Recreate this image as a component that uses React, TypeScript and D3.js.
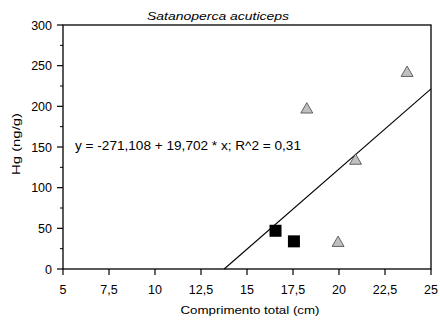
import React from 'react';
import * as d3 from 'd3';

// comprimento (cm) e Hg (ng/g)
const triX = [18.25, 23.7, 20.9, 19.95];
const triY = [196, 241, 133, 32];
const sqX = [16.55, 17.55];
const sqY = [47, 34];

const intercept = -271.108;
const slope = 19.702;

const xTicks = [5, 7.5, 10, 12.5, 15, 17.5, 20, 22.5, 25];
const yTicks = [0, 50, 100, 150, 200, 250, 300];
const yMinor = [25, 75, 125, 175, 225, 275];

const title = 'Satanoperca acuticeps';
const xLabel = 'Comprimento total (cm)';
const yLabel = 'Hg (ng/g)';
const eqText = 'y = -271,108 + 19,702 * x; R^2 = 0,31';

const width = 440;
const height = 321;
const margin = { top: 25, right: 9, bottom: 52, left: 63 };
const font = 'Arial, "Liberation Sans", sans-serif';

export default function App() {
  const innerW = width - margin.left - margin.right;
  const innerH = height - margin.top - margin.bottom;

  const xScale = d3.scaleLinear().domain([5, 25]).range([0, innerW]);
  const yScale = d3.scaleLinear().domain([0, 300]).range([innerH, 0]);

  const fmt = (v: number) => String(v).replace('.', ',');

  // reta de regressao, desde y = 0 ate x = 25
  const x0 = -intercept / slope;
  const fitLine = d3.line<number>()
    .x(d => xScale(d))
    .y(d => yScale(intercept + slope * d))([x0, 25]);

  const tri = d3.symbol().type(d3.symbolTriangle).size(62)();
  const sq = 12;

  return (
    <svg width={width} height={height} style={{ position: 'absolute', left: 0, top: 0 }}>
      <rect width={width} height={height} fill="#fff" />
      <text x={218} y={20} textAnchor="middle" fontFamily={font} fontSize={11.5} fontStyle="italic"
        textLength={142} lengthAdjust="spacingAndGlyphs">{title}</text>
      <g transform={`translate(${margin.left},${margin.top})`}>
        <rect x={0} y={0} width={innerW} height={innerH} fill="none" stroke="#000" strokeWidth={1.3} />
        {yTicks.map(t => (
          <g key={t} transform={`translate(0,${yScale(t)})`}>
            <line x1={-6} x2={0} stroke="#000" strokeWidth={1.2} />
            <text x={-11} dy=".36em" textAnchor="end" fontFamily={font} fontSize={12.5}>{t}</text>
          </g>
        ))}
        {yMinor.map(t => (
          <line key={t} x1={-3} x2={0} y1={yScale(t)} y2={yScale(t)} stroke="#000" strokeWidth={1} />
        ))}
        {xTicks.map(t => (
          <g key={t} transform={`translate(${xScale(t)},${innerH})`}>
            <line y1={0} y2={6} stroke="#000" strokeWidth={1.2} />
            <text y={25} textAnchor="middle" fontFamily={font} fontSize={12.5}>{fmt(t)}</text>
          </g>
        ))}
        <text x={innerW / 2 + 3} y={innerH + 45} textAnchor="middle" fontFamily={font} fontSize={11.5}
          textLength={139} lengthAdjust="spacingAndGlyphs">{xLabel}</text>
        <text transform={`translate(${20 - margin.left},${144 - margin.top}) rotate(-90)`} textAnchor="middle"
          fontFamily={font} fontSize={11.5} textLength={62} lengthAdjust="spacingAndGlyphs">{yLabel}</text>
        <path d={fitLine || ''} fill="none" stroke="#000" strokeWidth={1.1} />
        <text x={12} y={124.5} fontFamily={font} fontSize={12.5} textLength={226} lengthAdjust="spacingAndGlyphs">{eqText}</text>
        {triX.map((x, i) => (
          <path key={i} d={tri || ''} transform={`translate(${xScale(x)},${yScale(triY[i])})`} fill="#c0c0c0" stroke="#444" strokeWidth={0.8} />
        ))}
        {sqX.map((x, i) => (
          <rect key={i} x={xScale(x) - sq / 2} y={yScale(sqY[i]) - sq / 2} width={sq} height={sq} fill="#000" />
        ))}
      </g>
    </svg>
  );
}
